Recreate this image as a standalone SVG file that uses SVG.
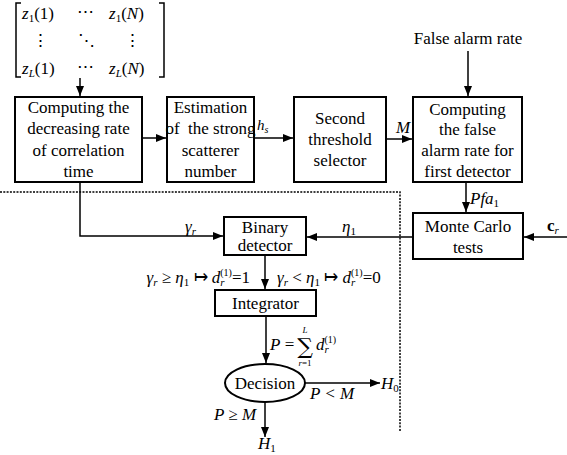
<svg xmlns="http://www.w3.org/2000/svg" width="567" height="455" viewBox="0 0 567 455">
<style>
text{font-family:"Liberation Serif","Times New Roman",serif;font-size:17px;fill:#000}
.c{text-anchor:middle}
.e{text-anchor:end}
.i{font-style:italic}
.n{font-style:normal}
.box{fill:#fff;stroke:#000;stroke-width:2}
.ln{fill:none;stroke:#000;stroke-width:1.5}
.dash{fill:none;stroke:#000;stroke-width:1.5;stroke-dasharray:2 1.3}
.sub{font-size:11px}
.sm{font-size:10px}
.tiny{font-size:9px}
.hs{font-size:15px}
.big{font-size:22px;font-family:"DejaVu Serif",serif}
</style>
<defs>
<marker id="ah" markerWidth="10" markerHeight="8" refX="10" refY="4" orient="auto" markerUnits="userSpaceOnUse">
<path d="M0,0 L10,4 L0,8 Z" fill="#000"/>
</marker>
</defs>
<rect width="567" height="455" fill="#fff"/>

<g id="matrix">
<path class="ln" d="M21,3 H16 V77 H21 M159,3 H164 V77 H159" stroke-width="1.2"/>
<text x="22" y="19"><tspan class="i">z</tspan><tspan class="sub" dy="3">1</tspan><tspan dy="-3">(1)</tspan></text>
<text x="85" y="17" class="c">⋯</text>
<text x="109" y="19"><tspan class="i">z</tspan><tspan class="sub" dy="3">1</tspan><tspan dy="-3">(</tspan><tspan class="i">N</tspan><tspan>)</tspan></text>
<text x="40" y="46" class="c">⋮</text>
<text x="86" y="46" class="c">⋱</text>
<text x="132" y="46" class="c">⋮</text>
<text x="22" y="74"><tspan class="i">z</tspan><tspan class="sub i" dy="3">L</tspan><tspan dy="-3">(1)</tspan></text>
<text x="85" y="72" class="c">⋯</text>
<text x="109" y="74"><tspan class="i">z</tspan><tspan class="sub i" dy="3">L</tspan><tspan dy="-3">(</tspan><tspan class="i">N</tspan><tspan>)</tspan></text>
</g>

<g id="box1">
<rect class="box" x="15" y="97" width="127" height="85"/>
<text class="c" x="78.5" y="113">Computing the</text>
<text class="c" x="78.5" y="134">decreasing rate</text>
<text class="c" x="78.5" y="156">of correlation</text>
<text class="c" x="78.5" y="177">time</text>
</g>

<g id="box2">
<rect class="box" x="167" y="97" width="87" height="85"/>
<text class="c" x="210.5" y="113">Estimation</text>
<text class="c" x="210.5" y="134" xml:space="preserve">of  the strong</text>
<text class="c" x="210.5" y="156">scatterer</text>
<text class="c" x="210.5" y="177">number</text>
</g>

<g id="box3">
<rect class="box" x="294" y="97" width="92" height="85"/>
<text class="c" x="340" y="124">Second</text>
<text class="c" x="340" y="145">threshold</text>
<text class="c" x="340" y="166">selector</text>
</g>

<g id="box4">
<rect class="box" x="413" y="97" width="109" height="85"/>
<text class="c" x="467.5" y="115">Computing</text>
<text class="c" x="467.5" y="135">the false</text>
<text class="c" x="467.5" y="156">alarm rate for</text>
<text class="c" x="467.5" y="177">first detector</text>
</g>

<g id="far">
<text class="c" x="468" y="44">False alarm rate</text>
</g>

<g id="binary">
<rect class="box" x="224" y="217" width="82" height="38"/>
<text class="c" x="265" y="233">Binary</text>
<text class="c" x="265" y="251">detector</text>
</g>

<g id="montecarlo">
<rect class="box" x="413" y="213" width="110" height="46"/>
<text class="c" x="468" y="232">Monte Carlo</text>
<text class="c" x="468" y="253">tests</text>
</g>

<g id="integrator">
<rect class="box" x="215" y="290" width="101" height="26"/>
<text class="c" x="265.5" y="309">Integrator</text>
</g>

<g id="decision">
<ellipse cx="265" cy="383" rx="40" ry="19" fill="#fff" stroke="#000" stroke-width="2"/>
<text class="c" x="265" y="389">Decision</text>
</g>

<g id="connectors">
<path class="ln" d="M80,78 V96" marker-end="url(#ah)"/>
<path class="ln" d="M142,138 H166" marker-end="url(#ah)"/>
<path class="ln" d="M254,138 H293" marker-end="url(#ah)"/>
<path class="ln" d="M386,139 H412" marker-end="url(#ah)"/>
<path class="ln" d="M468,51 V96" marker-end="url(#ah)"/>
<path class="ln" d="M466,182 V212" marker-end="url(#ah)"/>
<path class="ln" d="M80,182 V236 H223" marker-end="url(#ah)"/>
<path class="ln" d="M413,237 H307" marker-end="url(#ah)"/>
<path class="ln" d="M567,237 H524" marker-end="url(#ah)"/>
<path class="ln" d="M265,255 V289" marker-end="url(#ah)"/>
<path class="ln" d="M266,316 V363" marker-end="url(#ah)"/>
<path class="ln" d="M305,383 H380" marker-end="url(#ah)"/>
<path class="ln" d="M265,402 V437" marker-end="url(#ah)"/>
<path class="dash" d="M0,192 H400 V432"/>
</g>

<g id="labels">
<text x="257" y="130" class="i hs">h<tspan class="sm" dy="3">s</tspan></text>
<text x="396" y="133" class="i">M</text>
<text x="470" y="204" class="i">Pfa<tspan class="sub n" dy="3">1</tspan></text>
<text x="185" y="232" class="i">γ<tspan class="sub" dy="3">r</tspan></text>
<text x="342" y="232" class="i">η<tspan class="sub n" dy="3">1</tspan></text>
<text x="547" y="231" font-weight="bold">c<tspan class="sub i" dy="3" font-weight="normal">r</tspan></text>

<text x="250" y="283" class="e"><tspan class="i">γ</tspan><tspan class="sub i" dy="3">r</tspan><tspan dy="-3"> ≥ </tspan><tspan class="i">η</tspan><tspan class="sub" dy="3">1</tspan><tspan dy="-3"> ↦ </tspan><tspan class="i">d</tspan><tspan class="sub i" dy="3">r</tspan><tspan class="sm" dx="-4.3" dy="-10">(1)</tspan><tspan dy="7">=1</tspan></text>
<text x="277" y="283"><tspan class="i">γ</tspan><tspan class="sub i" dy="3">r</tspan><tspan dy="-3"> &lt; </tspan><tspan class="i">η</tspan><tspan class="sub" dy="3">1</tspan><tspan dy="-3"> ↦ </tspan><tspan class="i">d</tspan><tspan class="sub i" dy="3">r</tspan><tspan class="sm" dx="-4.3" dy="-10">(1)</tspan><tspan dy="7">=0</tspan></text>

<text x="270" y="350"><tspan class="i">P</tspan><tspan> = </tspan></text>
<text x="305" y="354" class="c big">∑</text>
<text x="305" y="333" class="i c tiny">L</text>
<text x="305" y="366" class="c tiny"><tspan class="i">r</tspan>=1</text>
<text x="316" y="350" class="i">d<tspan class="sub" dy="3">r</tspan><tspan class="sm n" dx="-4.3" dy="-10">(1)</tspan></text>

<text x="381" y="389" class="i">H<tspan class="sub n" dy="3">0</tspan></text>
<text x="310" y="399" class="i">P &lt; M</text>
<text x="214" y="420" class="i">P ≥ M</text>
<text x="258" y="449" class="i">H<tspan class="sub n" dy="3">1</tspan></text>
</g>
</svg>
